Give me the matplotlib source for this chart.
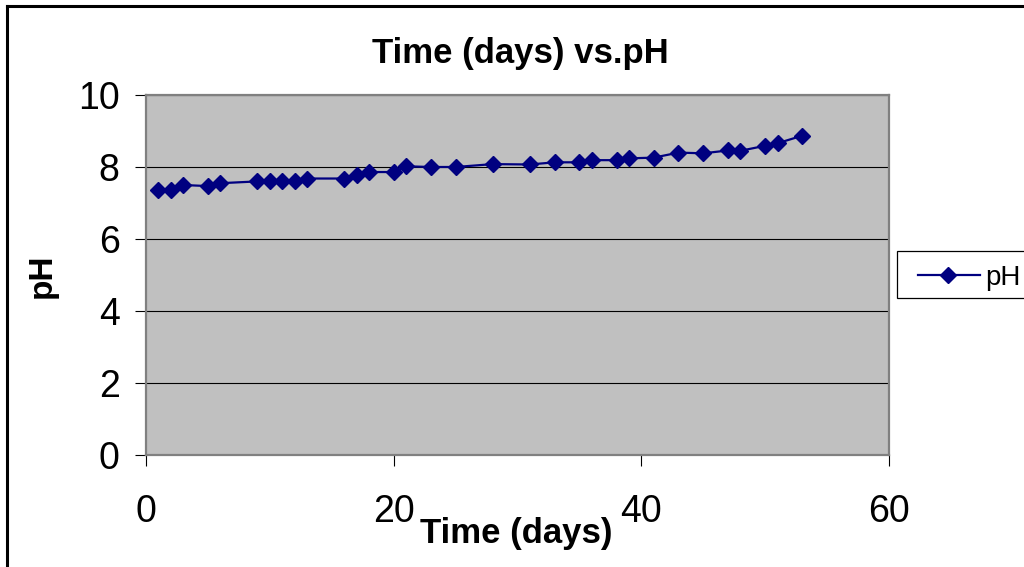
import matplotlib
matplotlib.use("Agg")
import matplotlib.pyplot as plt
from matplotlib.lines import Line2D
from matplotlib.patches import Rectangle

plt.rcParams['font.family'] = ['Liberation Sans', 'DejaVu Sans']

# Sampling days and measured pH
days = [1, 2, 3, 5, 6, 9, 10, 11, 12, 13, 16, 17, 18, 20, 21, 23, 25,
        28, 31, 33, 35, 36, 38, 39, 41, 43, 45, 47, 48, 50, 51, 53]
ph = [7.35, 7.35, 7.5, 7.47, 7.55, 7.6, 7.6, 7.6, 7.62, 7.68, 7.68, 7.79,
      7.86, 7.86, 8.02, 8.0, 8.0, 8.08, 8.07, 8.13, 8.13, 8.19, 8.19, 8.24,
      8.26, 8.4, 8.38, 8.46, 8.45, 8.59, 8.66, 8.87]
x_ticks = [0, 20, 40, 60]
y_ticks = [0, 2, 4, 6, 8, 10]
series_name = 'pH'

W, H = 1024, 567
NAVY = '#000080'
fig = plt.figure(figsize=(W / 100, H / 100), dpi=100)
fig.patch.set_facecolor('white')


def fx(px):
    return px / W


def fy(py):
    return 1 - py / H


# chart frame (top and left edges)
fig.add_artist(Line2D([fx(7), fx(7)], [0, fy(6)], color='black', lw=2.2,
                      transform=fig.transFigure))
fig.add_artist(Line2D([fx(7), 1], [fy(6), fy(6)], color='black', lw=2.2,
                      transform=fig.transFigure))

ax = fig.add_axes([fx(146), fy(455), (889 - 146) / W, (455 - 95) / H])
ax.set_facecolor('#C0C0C0')
ax.set_xlim(0, 60)
ax.set_ylim(0, 10)
ax.set_xticks(x_ticks)
ax.set_yticks(y_ticks)
ax.yaxis.grid(True, color='black', lw=0.8)
ax.set_axisbelow(True)
for s in ax.spines.values():
    s.set_color('#808080')
    s.set_linewidth(1.6)
ax.tick_params(axis='both', direction='out', length=8, width=0.8,
               color='black', labelsize=27)
ax.tick_params(axis='x', pad=20)
ax.tick_params(axis='y', pad=11)

ax.plot(days, ph, color=NAVY, lw=1.6, marker='D', markersize=7.8,
        markerfacecolor=NAVY, markeredgecolor=NAVY, clip_on=False)

fig.text(fx(520), fy(63), 'Time (days) vs.pH', ha='center',
         va='baseline', fontsize=25, fontweight='bold')
fig.text(fx(516), fy(543), 'Time (days)', ha='center',
         va='baseline', fontsize=25, fontweight='bold')
fig.text(fx(42), fy(276), 'pH', ha='center', va='center',
         rotation=90, fontsize=24, fontweight='bold')

# legend box, running off the right edge
fig.add_artist(Rectangle((fx(897), fy(298)), fx(1040) - fx(897),
                         fy(251) - fy(298), transform=fig.transFigure,
                         facecolor='white', edgecolor='black', lw=0.9))
fig.add_artist(Line2D([fx(918), fx(980)], [fy(275), fy(275)], color=NAVY,
                      lw=1.6, transform=fig.transFigure))
fig.add_artist(Line2D([fx(948)], [fy(275)], color=NAVY, marker='D',
                      markersize=7.8, markerfacecolor=NAVY,
                      markeredgecolor=NAVY, transform=fig.transFigure))
fig.text(fx(985), fy(275), series_name, ha='left', va='center_baseline',
         fontsize=20)

fig.savefig('out.png', dpi=100)
